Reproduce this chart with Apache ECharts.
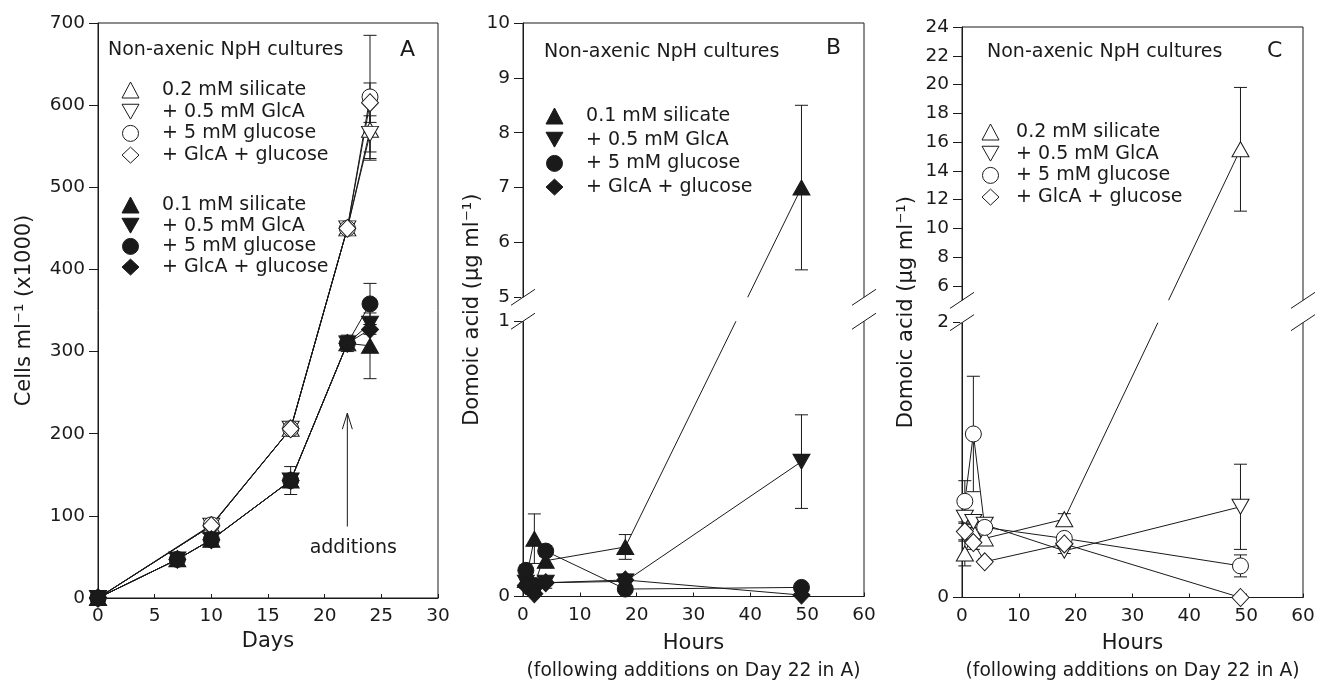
<!DOCTYPE html>
<html>
<head>
<meta charset="utf-8">
<title>Non-axenic NpH cultures</title>
<script src="https://cdn.jsdelivr.net/npm/echarts@6/dist/echarts.min.js"></script>
<style>
  html, body { margin: 0; padding: 0; background: #fff; }
  .panel { position: absolute; left: 0; top: 0; width: 1320px; height: 686px; }
</style>
</head>
<body>
<div id="chart-a" class="panel"></div>
<div id="chart-b" class="panel"></div>
<div id="chart-c" class="panel"></div>
<script>
// ---- data ----
// A: cells ml-1 (x1000) against days
var daysOpen = [0, 10, 17, 22, 24];
var daysFilled = [0, 7, 10, 17, 22, 24];
var namesOpen = ['0.2 mM silicate', '+ 0.5 mM GlcA', '+ 5 mM glucose', '+ GlcA + glucose'];
var namesFilled = ['0.1 mM silicate', '+ 0.5 mM GlcA', '+ 5 mM glucose', '+ GlcA + glucose'];

var cellsOpen = [
    [0, 88, 206, 450, 570],
    [0, 88, 206, 450, 565],
    [0, 89, 206, 450, 610],
    [0, 88, 206, 450, 603]
];
var cellsOpenErr = [
    [0, 0, 0, 0, 37],
    [0, 0, 0, 0, 22],
    [0, 0, 3, 0, 75],
    [0, 0, 0, 0, 24]
];
var cellsFilled = [
    [0, 47, 71, 143, 310, 307],
    [0, 47, 71, 143, 310, 334],
    [0, 47, 71, 143, 310, 358],
    [0, 47, 71, 143, 310, 327]
];
var cellsFilledErr = [
    [0, 4, 8, 17, 10, 40],
    [0, 0, 0, 0, 0, 8],
    [0, 0, 0, 0, 0, 25],
    [0, 0, 0, 0, 0, 6]
];

// B and C: domoic acid (ug ml-1) against hours after the additions
var hours = [0.5, 2, 4, 18, 49];
var domoicB = [
    [0.06, 0.21, 0.13, 0.18, 7.0],
    [0.05, 0.03, 0.05, 0.055, 0.49],
    [0.095, 0.04, 0.165, 0.027, 0.033],
    [0.04, 0.01, 0.05, 0.06, 0.005]
];
var domoicBErr = [
    [0.02, 0.09, 0.025, 0.045, 1.5],
    [0.01, 0.01, 0.02, 0.01, 0.17],
    [0.02, 0.01, 0.02, 0.01, 0.01],
    [0.01, 0.01, 0.01, 0.01, 0]
];
var domoicC = [
    [0.32, 0.48, 0.43, 0.57, 15.5],
    [0.58, 0.55, 0.53, 0.34, 0.66],
    [0.70, 1.19, 0.51, 0.43, 0.23],
    [0.48, 0.40, 0.26, 0.39, 0.0]
];
var domoicCErr = [
    [0.09, 0.05, 0.05, 0.04, 4.3],
    [0.10, 0.04, 0.04, 0.02, 0.31],
    [0.15, 0.42, 0.04, 0.03, 0.08],
    [0.06, 0.05, 0.02, 0.02, 0]
];

var ticksB = [0, 1, 5, 6, 7, 8, 9, 10];
var ticksC = [0, 2, 6, 8, 10, 12, 14, 16, 18, 20, 22, 24];

// arrow in A
var arrowDay = 22, arrowBottom = 87, arrowTop = 225;

// ---- style ----
var ink = '#1a1a1a';
var font = 'DejaVu Sans';
var SYMBOLS = ['triangle', 'path://M0,0L20,0L10,17.5Z', 'circle', 'diamond'];
var SYMBOL_SIZES = [[17, 15], [17, 15], 16, [17, 18]];

drawCellsChart();
drawDomoicChart('chart-b', {
    values: domoicB, errs: domoicBErr, ticks: ticksB, open: false,
    scale: makeBreakScale(1, 5, 10, 276, 24, 275),
    grid: { left: 523, top: 23, width: 341, height: 575 },
    title: { left: 544, top: 43 }, letter: { text: 'B', left: 826, top: 37 },
    legend: { left: 545.5, top: 106.5, gap: 4.7, pad: '   ' },
    names: namesFilled, yNameGap: 35, xNameGap: 34
});
drawDomoicChart('chart-c', {
    values: domoicC, errs: domoicCErr, ticks: ticksC, open: true,
    scale: makeBreakScale(2, 5, 24, 277, 22.5, 275.5),
    grid: { left: 962, top: 27, width: 341, height: 575 },
    title: { left: 987, top: 43 }, letter: { text: 'C', left: 1267, top: 40 },
    legend: { left: 981.5, top: 122.5, gap: 2.7, pad: '  ' },
    names: namesOpen, yNameGap: 45, xNameGap: 33
});

function markerStyle(open) {
    return open
        ? { color: '#fff', borderColor: ink, borderWidth: 1 }
        : { color: ink, borderColor: ink, borderWidth: 1 };
}

function lineSeries(name, points, k, open) {
    return {
        name: name,
        type: 'line',
        data: points,
        symbol: SYMBOLS[k],
        symbolSize: SYMBOL_SIZES[k],
        itemStyle: markerStyle(open),
        lineStyle: { color: ink, width: 1 },
        z: 3,
        animation: false,
        emphasis: { disabled: true }
    };
}

// error bars with caps, points are [x, low, high]
function errorBars(points) {
    return {
        type: 'custom',
        data: points,
        z: 2,
        silent: true,
        animation: false,
        encode: { x: 0, y: [1, 2] },
        renderItem: function (params, api) {
            var x = api.value(0);
            var lo = api.coord([x, api.value(1)]);
            var hi = api.coord([x, api.value(2)]);
            var w = 6.5;
            var st = { stroke: ink, lineWidth: 1 };
            return {
                type: 'group',
                children: [
                    { type: 'line', shape: { x1: lo[0], y1: lo[1], x2: hi[0], y2: hi[1] }, style: st },
                    { type: 'line', shape: { x1: lo[0] - w, y1: lo[1], x2: lo[0] + w, y2: lo[1] }, style: st },
                    { type: 'line', shape: { x1: hi[0] - w, y1: hi[1], x2: hi[0] + w, y2: hi[1] }, style: st }
                ]
            };
        }
    };
}

function legendBlock(names, open, left, top, gap, pad) {
    return {
        orient: 'vertical',
        left: left,
        top: top,
        padding: 0,
        itemWidth: 17,
        itemHeight: 16,
        itemGap: gap,
        selectedMode: false,
        textStyle: { fontFamily: font, fontSize: 19, color: ink },
        formatter: function (n) { return pad + n; },
        data: names.map(function (n, k) {
            return { name: n, icon: SYMBOLS[k], itemStyle: markerStyle(open) };
        })
    };
}

function titleText(text, left, top, size) {
    return {
        text: text, left: left, top: top, padding: 0,
        textStyle: { fontFamily: font, fontSize: size, fontWeight: 'normal', color: ink }
    };
}

/**
 * broken y axis: values up to lowMax fill lowPx, then a gap, then highMin..highMax fill highPx
 */
function makeBreakScale(lowMax, highMin, highMax, lowPx, gapPx, highPx) {
    return {
        lowPx: lowPx,
        gapPx: gapPx,
        total: lowPx + gapPx + highPx,
        to: function (v) {
            if (v <= lowMax) return Math.max(v, 0) / lowMax * lowPx;
            return lowPx + gapPx + (v - highMin) / (highMax - highMin) * highPx;
        },
        from: function (t) {
            if (t <= lowPx + 0.5) return t / lowPx * lowMax;
            return highMin + (t - lowPx - gapPx) / highPx * (highMax - highMin);
        }
    };
}

/**
 * A: cell growth
 */
function drawCellsChart() {
    var myChart = echarts.init(document.getElementById('chart-a'));
    var series = [];
    var bars = [];

    cellsOpen.forEach(function (vals, k) {
        series.push(lineSeries(namesOpen[k], daysOpen.map(function (d, j) { return [d, vals[j]]; }), k, true));
        cellsOpenErr[k].forEach(function (e, j) {
            if (e > 0) bars.push([daysOpen[j], vals[j] - e, vals[j] + e]);
        });
    });
    // trailing space keeps the filled names apart from the open ones in the legend
    var filledKeys = namesFilled.map(function (n, k) { return k > 0 ? n + ' ' : n; });
    cellsFilled.forEach(function (vals, k) {
        series.push(lineSeries(filledKeys[k], daysFilled.map(function (d, j) { return [d, vals[j]]; }), k, false));
        cellsFilledErr[k].forEach(function (e, j) {
            if (e > 0) bars.push([daysFilled[j], vals[j] - e, vals[j] + e]);
        });
    });
    series.unshift(errorBars(bars));

    var option = {
        animation: false,
        textStyle: { fontFamily: font },
        title: [
            titleText('Non-axenic NpH cultures', 108, 41, 19),
            titleText('A', 400, 39, 22)
        ],
        legend: [
            legendBlock(namesOpen, true, 121.5, 80.5, 2.7, '   '),
            legendBlock(filledKeys, false, 121.5, 195.5, 1.7, '   ')
        ],
        grid: { left: 98, top: 23, width: 340, height: 575, show: true, borderColor: ink, borderWidth: 1 },
        xAxis: {
            type: 'value', min: 0, max: 30, interval: 5,
            axisLine: { lineStyle: { color: ink } },
            axisTick: { inside: true, length: 4, lineStyle: { color: ink } },
            axisLabel: { margin: 9, fontSize: 18.5, color: ink },
            splitLine: { show: false },
            name: 'Days', nameLocation: 'middle', nameGap: 31,
            nameTextStyle: { fontSize: 21, color: ink }
        },
        yAxis: {
            type: 'value', min: 0, max: 700, interval: 100,
            axisLine: { show: true, lineStyle: { color: ink } },
            axisTick: { show: true, length: 9, lineStyle: { color: ink } },
            axisLabel: { margin: 13, fontSize: 18.5, color: ink },
            splitLine: { show: false },
            name: 'Cells ml⁻¹ (x1000)', nameLocation: 'middle', nameGap: 63,
            nameTextStyle: { fontSize: 21, color: ink }
        },
        series: series
    };

    option && myChart.setOption(option);

    var tip = myChart.convertToPixel({ gridIndex: 0 }, [arrowDay, arrowTop]);
    var tail = myChart.convertToPixel({ gridIndex: 0 }, [arrowDay, arrowBottom]);
    myChart.setOption({
        graphic: [
            { type: 'line', z: 50, shape: { x1: tail[0], y1: tail[1], x2: tip[0], y2: tip[1] }, style: { stroke: ink, lineWidth: 1 } },
            { type: 'polyline', z: 50, shape: { points: [[tip[0] - 5, tip[1] + 16], [tip[0], tip[1]], [tip[0] + 5, tip[1] + 16]] }, style: { stroke: ink, fill: null, lineWidth: 1 } },
            { type: 'text', z: 50, x: tip[0] + 6, y: tail[1] + 22, style: { text: 'additions', fontFamily: font, fontSize: 19, fill: ink, align: 'center', verticalAlign: 'middle' } }
        ]
    });
}

/**
 * B and C: domoic acid on a broken axis
 */
function drawDomoicChart(domId, cfg) {
    var myChart = echarts.init(document.getElementById(domId));
    var sc = cfg.scale;
    var series = [];
    var bars = [];

    cfg.values.forEach(function (vals, k) {
        series.push(lineSeries(cfg.names[k], hours.map(function (h, j) { return [h, sc.to(vals[j])]; }), k, cfg.open));
        cfg.errs[k].forEach(function (e, j) {
            if (e > 0) bars.push([hours[j], sc.to(vals[j] - e), sc.to(vals[j] + e)]);
        });
    });
    series.unshift(errorBars(bars));

    var tickPos = cfg.ticks.map(sc.to);
    var g = cfg.grid;

    var option = {
        animation: false,
        textStyle: { fontFamily: font },
        title: [
            titleText('Non-axenic NpH cultures', cfg.title.left, cfg.title.top, 19),
            titleText(cfg.letter.text, cfg.letter.left, cfg.letter.top, 22)
        ],
        legend: legendBlock(cfg.names, cfg.open, cfg.legend.left, cfg.legend.top, cfg.legend.gap, cfg.legend.pad),
        grid: { left: g.left, top: g.top, width: g.width, height: g.height, show: true, borderColor: ink, borderWidth: 1 },
        xAxis: {
            type: 'value', min: 0, max: 60, interval: 10,
            axisLine: { lineStyle: { color: ink } },
            axisTick: { inside: true, length: 4, lineStyle: { color: ink } },
            axisLabel: { margin: 9, fontSize: 18.5, color: ink },
            splitLine: { show: false },
            name: '{a|Hours}\n{b|(following additions on Day 22 in A)}',
            nameLocation: 'middle', nameGap: cfg.xNameGap,
            nameTextStyle: {
                color: ink,
                rich: {
                    a: { fontSize: 21, lineHeight: 26, color: ink, fontFamily: font },
                    b: { fontSize: 18.7, lineHeight: 30, color: ink, fontFamily: font }
                }
            }
        },
        yAxis: {
            type: 'value', min: 0, max: sc.total,
            axisLine: { show: true, lineStyle: { color: ink } },
            axisTick: { show: true, length: 9, customValues: tickPos, lineStyle: { color: ink } },
            axisLabel: {
                margin: 13, fontSize: 18.5, color: ink, customValues: tickPos,
                formatter: function (t) { return String(Math.round(sc.from(t))); }
            },
            splitLine: { show: false },
            name: 'Domoic acid (µg ml⁻¹)', nameLocation: 'middle', nameGap: cfg.yNameGap,
            nameTextStyle: { fontSize: 21, color: ink }
        },
        series: series
    };

    option && myChart.setOption(option);

    // white band and double slashes where the axis is broken
    var yLow = myChart.convertToPixel({ gridIndex: 0 }, [0, sc.lowPx])[1];
    var yHigh = myChart.convertToPixel({ gridIndex: 0 }, [0, sc.lowPx + sc.gapPx])[1];
    var xL = myChart.convertToPixel({ gridIndex: 0 }, [0, 0])[0];
    var xR = myChart.convertToPixel({ gridIndex: 0 }, [60, 0])[0];
    var marks = [{
        type: 'rect', z: 50,
        shape: { x: xL - 2, y: yHigh, width: xR - xL + 4, height: yLow - yHigh },
        style: { fill: '#fff' }
    }];
    [xL, xR].forEach(function (x) {
        [yLow, yHigh].forEach(function (y) {
            marks.push({
                type: 'line', z: 51,
                shape: { x1: x - 12, y1: y + 8, x2: x + 12, y2: y - 8 },
                style: { stroke: ink, lineWidth: 1 }
            });
        });
    });
    myChart.setOption({ graphic: marks });
}
</script>
</body>
</html>
